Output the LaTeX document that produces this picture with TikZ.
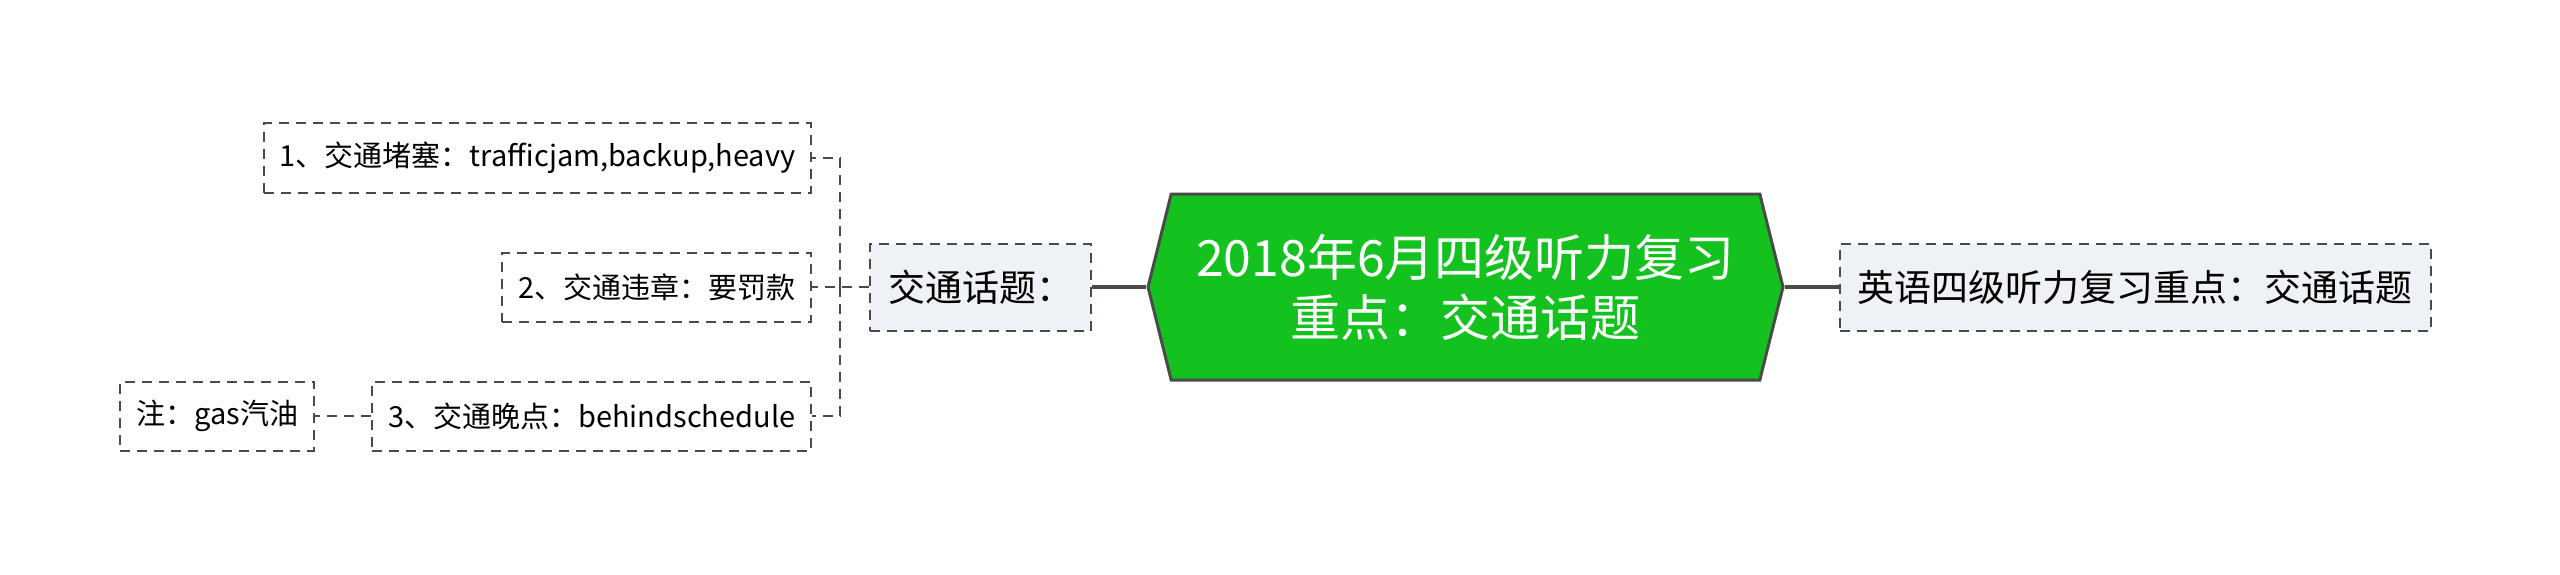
\documentclass[tikz,border=0pt]{standalone}
\usepackage{fontspec}
\setmainfont{Noto Sans CJK SC}
\usepackage{tikz}
\usetikzlibrary{positioning,shapes.symbols}
\definecolor{mapgreen}{HTML}{13C11F}
\definecolor{mapline}{HTML}{4A4A4A}
\definecolor{mapfill}{HTML}{EEF1F5}

\begin{document}
\begin{tikzpicture}[x=1pt,y=1pt]
        \tikzstyle{main}=[shape=signal,signal to=west and east,signal pointer angle=152,draw=mapline,line width=3pt,fill=mapgreen,text=white,font=\fontsize{50}{60}\selectfont,align=center,minimum width=635pt,minimum height=186pt,inner sep=0pt]
        \tikzstyle{sub}=[draw=mapline,line width=2pt,dash pattern=on 10pt off 7pt,fill=mapfill,font=\fontsize{37}{44}\selectfont,minimum height=87pt,inner xsep=18pt]
        \tikzstyle{leaf}=[draw=mapline,line width=2pt,dash pattern=on 10pt off 7pt,fill=white,font=\fontsize{29}{35}\selectfont,minimum height=69pt,inner xsep=16pt]
        \tikzstyle{link}=[draw=mapline,line width=2pt,dash pattern=on 10pt off 7pt]
        \useasboundingbox (0,0) rectangle (2560,-575);
        \node[main] (Ct) at (1465.5,-287) {2018年6月四级听力复习\\重点：交通话题};
        \node[sub] (Sm) [right=54pt of Ct] {英语四级听力复习重点：交通话题};
        \node[sub] (Tp) [left=54pt of Ct] {交通话题：};
        \node[leaf] (L2) [left=57pt of Tp] {2、交通违章：要罚款};
        \node[leaf] (L1) [left=57pt of Tp,yshift=129pt] {1、交通堵塞：trafficjam,backup,heavy};
        \node[leaf] (L3) [left=57pt of Tp,yshift=-129pt] {3、交通晚点：behindschedule};
        \node[leaf] (Nt) [left=56pt of L3] {注：gas汽油};
        \coordinate (Jn) at ([xshift=-29pt]Tp.west);
        \path[draw=mapline,line width=3.5pt]
        (Ct.west) edge (Tp.east)
        (Ct.east) edge (Sm.west);
        \draw[link] (Tp.west) -- (Jn) -- (L2.east);
        \draw[link] (Jn) |- (L1.east);
        \draw[link] (Jn) |- (L3.east);
        \draw[link] (L3.west) -- (Nt.east);
    \end{tikzpicture}
\end{document}
